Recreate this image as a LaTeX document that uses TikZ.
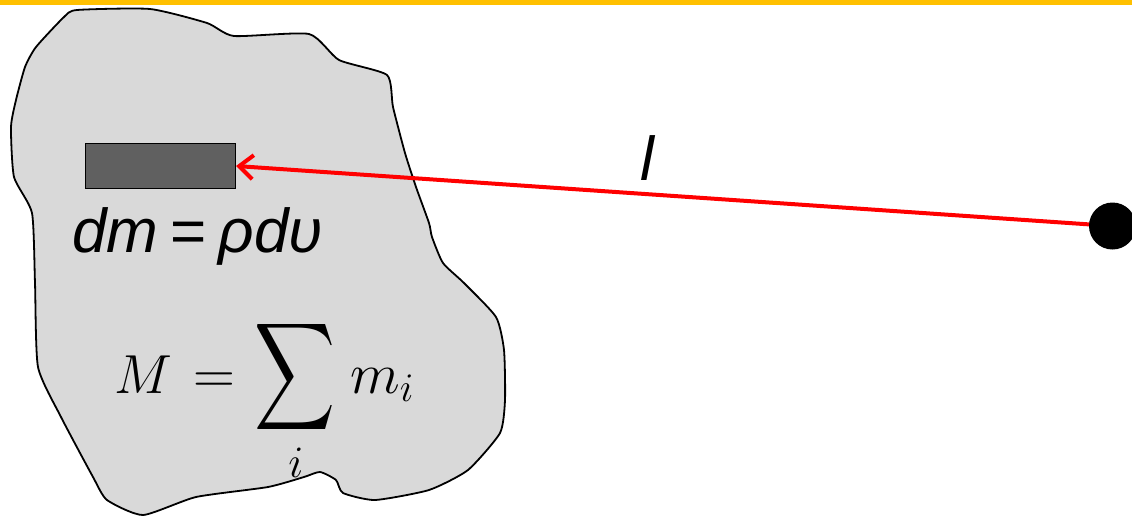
\RequirePackage{fix-cm}
\documentclass[tikz,border=0pt]{standalone}
\usepackage{graphicx}
\usepackage{fontspec}
\newfontfamily\arialf{Liberation Sans}
\usetikzlibrary{arrows.meta}
\definecolor{barorange}{HTML}{FFC000}
\definecolor{blobgray}{HTML}{D9D9D9}
\definecolor{elemgray}{HTML}{606060}
\definecolor{linered}{HTML}{FF0000}
\tikzset{
  sanslbl/.style={inner sep=0pt, font=\arialf\fontsize{62}{64}\selectfont},
  mathlbl/.style={inner sep=0pt, font=\fontsize{58}{62}\selectfont},
}
\begin{document}
\begin{tikzpicture}[x=1pt,y=-1pt]
\useasboundingbox (0,0) rectangle (1132,517);
\fill[barorange] (0,0) rectangle (1132,5);
% body outline
\draw[line width=1.8pt, fill=blobgray, line join=round]
  plot[smooth cycle, tension=0.35] coordinates {
  (77,10) (150,9) (207,23) (234,36) (309,34) (339,60) (387,75) (393,107)
  (405,153) (416,187) (429,223) (432,237) (443,263) (464,283) (496,317)
  (504,350) (505,400) (500,433) (468,470) (429,490) (375,500) (343,493)
  (336,480) (320,472) (304,477) (268,487) (196,497) (143,515) (107,500)
  (93,477) (61,417) (38,367) (35,283) (32,213) (14,177) (11,127) (16,100)
  (25,67) (36,47) (64,17)};
% mass element
\node[draw=black, line width=1pt, fill=elemgray, minimum width=150pt, minimum height=45pt, inner sep=0pt, anchor=north west] (elem) at (85,143) {};
% connector
\coordinate (ptc) at (1112.5,226);
\draw[linered, line width=4pt, -{Straight Barb[length=14pt, width=24pt, line width=4pt]}] (ptc) -- (elem.east);
% point
\node[circle, fill=black, minimum size=47pt, inner sep=0pt] (pt) at (ptc) {};
% labels
\node[sanslbl, anchor=base] (llab) at (647,180) {\itshape l};
\node[sanslbl, anchor=base west] (dm) at (72,252) {\itshape dm\hspace{12pt}\upshape=\hspace{12pt}\itshape ρdυ};
\node[mathlbl, anchor=base west, font=\fontsize{55}{60}\selectfont] (mM) at (114,393) {$M$};
\node[mathlbl, anchor=base] (meq) at (214,393) {$=$};
\node[inner sep=0pt] (msum) at (295.5,377) {\resizebox*{81pt}{120pt}{$\displaystyle\sum$}};
\node[inner sep=0pt, anchor=base, font=\fontsize{45}{50}\selectfont] (msub) at (296,477) {$i$};
\node[mathlbl, anchor=base west] (mmi) at (350,393) {$m_i$};
\end{tikzpicture}
\end{document}
